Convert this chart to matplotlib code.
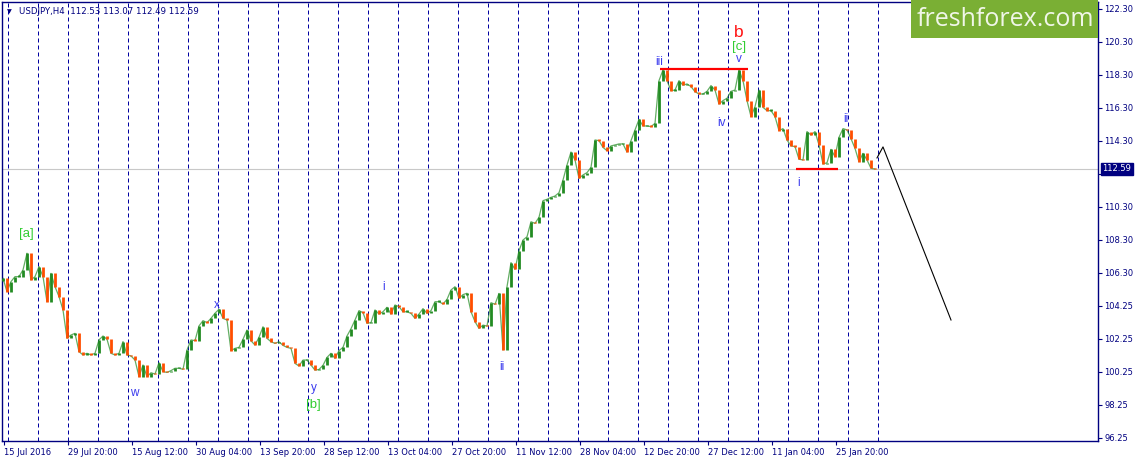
import matplotlib
matplotlib.use("Agg")
import matplotlib.pyplot as plt
import matplotlib.transforms as mtransforms
from matplotlib.patches import Rectangle
import numpy as np

# ---------------- data ----------------
header_text = "USDJPY,H4  112.53 113.07 112.49 112.59"
last_price = 112.59
open0 = 105.80

closes = [
    105.96, 105.15, 105.76, 106.06, 106.06, 106.47, 107.48, 105.86, 106.06, 106.67,
    106.06, 104.54, 106.26, 105.45, 104.85, 104.04, 102.32, 102.52, 102.62, 101.51,
    101.31, 101.41, 101.31, 101.41, 102.22, 102.46, 102.26, 101.41, 101.31, 101.41,
    102.12, 101.31, 101.25, 101.00, 99.99, 100.70, 99.99, 100.23, 100.15, 100.84,
    100.30, 100.25, 100.36, 100.50, 100.50, 100.44, 101.61, 102.22, 102.18, 103.07,
    103.39, 103.27, 103.53, 103.84, 104.08, 103.53, 103.43,
    101.57, 101.71, 101.77, 102.26, 102.82, 102.17, 101.91, 102.38, 103.02, 102.32,
    102.11, 102.01, 102.11, 101.89, 101.77, 101.71, 100.80, 100.64, 101.00, 101.00,
    100.70, 100.39, 100.43, 100.68, 101.16, 101.41, 101.10, 101.57, 101.77, 102.46,
    102.90, 103.43, 104.00, 103.87, 103.23, 103.27, 104.04, 103.79, 103.93, 104.20,
    103.79, 104.34, 104.24, 103.93, 103.93, 103.83, 103.53, 103.79, 104.12, 103.83,
    104.00, 104.54, 104.54, 104.40, 104.68, 105.25, 105.45, 104.74, 104.97, 105.05,
    103.93, 103.33, 102.92,
    103.12, 103.06, 104.48, 104.38, 105.04, 101.61, 105.45, 106.91, 106.50, 107.63,
    108.28, 108.48, 109.39, 109.29, 109.66, 110.67, 110.75, 110.87, 110.95, 111.15,
    111.92, 112.83, 113.62, 113.14, 112.02, 112.23, 112.37, 112.69, 114.35, 114.31,
    113.90, 113.70, 113.99, 114.05, 114.11, 114.11, 113.62, 114.31, 114.96, 115.60,
    115.20, 115.20, 115.16, 115.36, 117.95, 118.60, 117.95,
    117.34, 117.38, 117.95, 117.67, 117.75, 117.59, 117.28, 117.14, 117.14, 117.30,
    117.65, 117.38, 116.53, 116.74, 116.88, 117.30, 117.38, 118.60, 117.95, 116.74,
    115.77, 116.37, 117.38, 116.33, 116.13, 116.13, 115.77, 114.92, 115.04, 114.35,
    113.99, 113.95, 113.18, 113.14, 114.86, 114.65, 114.86, 114.05, 112.89, 112.97,
    113.78, 113.34, 114.51, 115.04, 114.96, 114.43, 113.84, 113.03, 113.54, 113.14,
    112.63, 112.59,
]
bars_per_sample = 4
first_bar = 1

time_labels = ["15 Jul 2016", "29 Jul 20:00", "15 Aug 12:00", "30 Aug 04:00",
               "13 Sep 20:00", "28 Sep 12:00", "13 Oct 04:00", "27 Oct 20:00",
               "11 Nov 12:00", "28 Nov 04:00", "12 Dec 20:00", "27 Dec 12:00",
               "11 Jan 04:00", "25 Jan 20:00"]
time_label_first_bar = 1.5
bars_per_label = 64

week_first_bar = 6.3
bars_per_week = 30
n_weeks = 30

price_ticks = [122.30, 120.30, 118.30, 116.30, 114.30, 112.30, 110.30,
               108.30, 106.30, 104.30, 102.30, 100.30, 98.30, 96.30]
price_tick_labels = ["122.30", "120.30", "118.30", "116.30", "114.30", "112.30",
                     "110.30", "108.30", "106.30", "104.25", "102.25", "100.25",
                     "98.25", "96.25"]

# wave labels
wave_texts = ["[a]", "w", "x", "y", "[b]", "i", "ii", "iii", "b", "[c]", "v", "iv", "i", "ii"]
wave_bars = [24, 132, 215, 312, 311, 382, 500, 657, 737, 737, 737, 720, 797, 844]
wave_prices = [108.65, 99.00, 104.34, 99.30, 98.27, 105.43, 100.58, 119.08,
               120.90, 119.99, 119.27, 115.38, 111.74, 115.63]
wave_kinds = ["major", "minor", "minor", "minor", "major", "minor", "minor", "minor",
              "top", "major", "minor", "minor", "minor", "minor"]

level_bars = [(658, 746), (794, 836)]
level_prices = [118.66, 112.62]

forecast_bars = [875, 881, 949]
forecast_prices = [113.26, 113.93, 103.43]

# ---------------- style ----------------
W, H = 1138, 461
NAVY = "#000080"
GRID = "#0000a0"
BULL = "#228b22"
BEAR = "#ff4e00"
WAVE_BLUE = "#3a3aee"
WAVE_GREEN = "#32cd32"

fig = plt.figure(figsize=(W / 100, H / 100), dpi=100)
fig.patch.set_facecolor("white")
ax_left, ax_right, ax_top, ax_bottom = 2, 1098, 2, 441
ax = fig.add_axes([ax_left / W, (H - ax_bottom) / H,
                   (ax_right - ax_left) / W, (ax_bottom - ax_top) / H])
ax.set_facecolor("white")
ax.set_xlim(0, ax_right - ax_left)
ax.set_ylim(96.09, 122.72)

for sp in ax.spines.values():
    sp.set_color(NAVY)
    sp.set_linewidth(1.0)

# week separators
for k in range(n_weeks):
    ax.axvline(week_first_bar + bars_per_week * k, color=GRID, lw=0.72,
               dashes=(4, 3), zorder=1)

# current price line
ax.axhline(last_price, color="#c8c8c8", lw=0.8, zorder=1)

# candles (bodies from previous close to close)
c = np.array(closes)
o = np.concatenate([[open0], c[:-1]])
xs = first_bar + bars_per_sample * np.arange(len(c))
cols = [BULL if cc >= oo else BEAR for oo, cc in zip(o, c)]
lo = np.minimum(o, c)
hi = np.maximum(o, c)
hi = np.where(hi - lo < 0.08, lo + 0.08, hi)
ax.plot(xs, c, color=BULL, lw=0.9, alpha=0.7, zorder=2)
ax.vlines(xs, lo, hi, colors=cols, lw=2.0, capstyle="butt", zorder=3)

# red levels
for (b0, b1), p in zip(level_bars, level_prices):
    ax.plot([b0, b1], [p, p], color="#ff0000", lw=1.6, zorder=4,
            solid_capstyle="butt")

# forecast line
ax.plot(forecast_bars, forecast_prices, color="black", lw=0.8, zorder=4)

# wave labels
for t, b, p, kd in zip(wave_texts, wave_bars, wave_prices, wave_kinds):
    if kd == "major":
        ax.text(b, p, t, color=WAVE_GREEN, fontsize=9.5, ha="center", va="center",
                family="Liberation Sans", zorder=5)
    elif kd == "top":
        ax.text(b, p, t, color="#ff1010", fontsize=12.5, ha="center", va="center",
                family="Liberation Sans", zorder=5)
    else:
        ax.text(b, p, t, color=WAVE_BLUE, fontsize=8.5, ha="center", va="center",
                family="Liberation Sans", zorder=5)

# axes ticks
ax.yaxis.tick_right()
ax.set_yticks(price_ticks)
ax.set_yticklabels(price_tick_labels)
ax.tick_params(axis="y", colors=NAVY, labelcolor=NAVY, length=3, width=0.8,
               pad=1.5, labelsize=6)
ax.set_xticks([time_label_first_bar + bars_per_label * k for k in range(len(time_labels))])
ax.set_xticklabels(time_labels)
ax.tick_params(axis="x", colors=NAVY, labelcolor=NAVY, length=3, width=0.8,
               pad=2, labelsize=6)
for lbl in ax.get_xticklabels():
    lbl.set_ha("left")

# the tick label under the current-price box is covered
for lbl, val in zip(ax.get_yticklabels(), price_ticks):
    if abs(val - last_price) < 0.5:
        lbl.set_alpha(0.0)

# price box
trans = mtransforms.blended_transform_factory(ax.transAxes, ax.transData)
ax.text(1.0 + 4.5 / (ax_right - ax_left), last_price, f"{last_price:.2f}",
        transform=trans, ha="left", va="center", fontsize=6, color="white",
        bbox=dict(boxstyle="square,pad=0.2", fc=NAVY, ec=NAVY), clip_on=False,
        zorder=10)

# header
fig.text(7 / W, 1 - 11.5 / H, "\u25bc", fontsize=4.5, color=NAVY, ha="left", va="center")
fig.text(19 / W, 1 - 11 / H, header_text, fontsize=6.2, color=NAVY, ha="left", va="center")

# logo
fig.patches.append(Rectangle((911 / W, 1 - 37.7 / H), (1098 - 911) / W, 37.7 / H,
                             transform=fig.transFigure, fc="#7aaf34", ec="none",
                             zorder=20))
fig.text(1005 / W, 1 - 19 / H, "freshforex.com", fontsize=18, color="#f0f6e8",
         ha="center", va="center", family="Open Sans", zorder=21)

fig.savefig("out.png", dpi=100)
